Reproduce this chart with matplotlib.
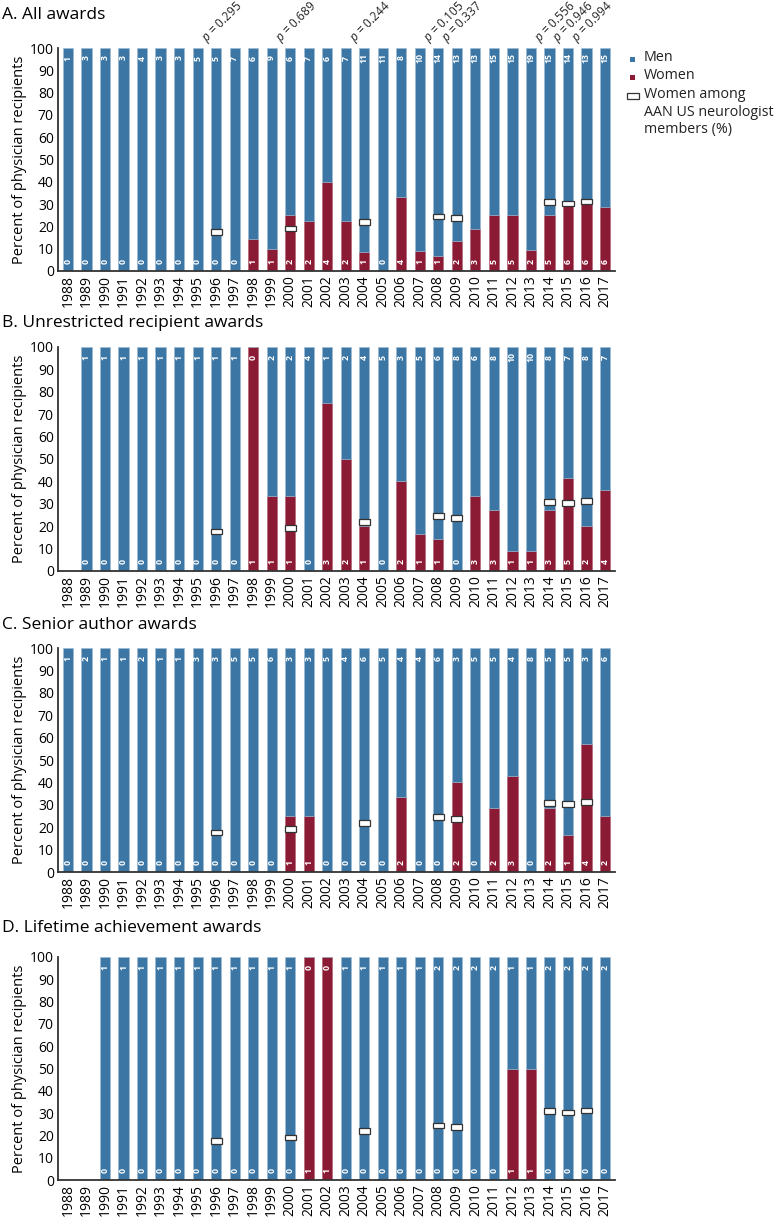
import matplotlib.pyplot as plt
import numpy as np
from matplotlib.patches import Rectangle

plt.rcParams['font.family'] = ['Open Sans', 'DejaVu Sans']
plt.rcParams['mathtext.fontset'] = 'custom'
plt.rcParams['mathtext.it'] = 'Open Sans:italic'
plt.rcParams['mathtext.rm'] = 'Open Sans'

years = list(range(1988, 2018))

# counts per year (None = no award that year)
men_all = [1, 3, 3, 3, 4, 3, 3, 5, 5, 7, 6, 9, 6, 7, 6, 7, 11, 11, 8, 10, 14, 13, 13, 15, 15, 19, 15, 14, 13, 15]
women_all = [0, 0, 0, 0, 0, 0, 0, 0, 0, 0, 1, 1, 2, 2, 4, 2, 1, 0, 4, 1, 1, 2, 3, 5, 5, 2, 5, 6, 6, 6]

men_unres = [None, 1, 1, 1, 1, 1, 1, 1, 1, 1, 0, 2, 2, 4, 1, 2, 4, 5, 3, 5, 6, 8, 6, 8, 10, 10, 8, 7, 8, 7]
women_unres = [None, 0, 0, 0, 0, 0, 0, 0, 0, 0, 1, 1, 1, 0, 3, 2, 1, 0, 2, 1, 1, 0, 3, 3, 1, 1, 3, 5, 2, 4]

men_senior = [1, 2, 1, 1, 2, 1, 1, 3, 3, 5, 5, 6, 3, 3, 5, 4, 6, 5, 4, 4, 6, 3, 5, 5, 4, 8, 5, 5, 3, 6]
women_senior = [0, 0, 0, 0, 0, 0, 0, 0, 0, 0, 0, 0, 1, 1, 0, 0, 0, 0, 2, 0, 0, 2, 0, 2, 3, 0, 2, 1, 4, 2]

men_life = [None, None, 1, 1, 1, 1, 1, 1, 1, 1, 1, 1, 1, 0, 0, 1, 1, 1, 1, 1, 2, 2, 2, 2, 1, 1, 2, 2, 2, 2]
women_life = [None, None, 0, 0, 0, 0, 0, 0, 0, 0, 0, 0, 0, 1, 1, 0, 0, 0, 0, 0, 0, 0, 0, 0, 1, 1, 0, 0, 0, 0]

# women among AAN US neurologist members (%)
aan_years = [1996, 2000, 2004, 2008, 2009, 2014, 2015, 2016]
aan_pct = [17.6, 19.1, 22.0, 24.4, 23.6, 30.8, 30.3, 31.2]
p_values = ['0.295', '0.689', '0.244', '0.105', '0.337', '0.556', '0.946', '0.994']

titles = ['A. All awards', 'B. Unrestricted recipient awards',
          'C. Senior author awards', 'D. Lifetime achievement awards']
panels = [(men_all, women_all), (men_unres, women_unres),
          (men_senior, women_senior), (men_life, women_life)]

blue = '#3b76a4'
red = '#8b1a34'
dark = '#333333'

W, H = 778, 1220
fig = plt.figure(figsize=(W / 100, H / 100), dpi=100)

# pixel positions (y of 0 line, y of 100 line, title centre) for each panel
rows = [(271, 48, 15), (571, 347, 323), (872, 648, 625), (1180, 957, 928)]
x_left, x_right = 58, 615

for i, (men, women) in enumerate(panels):
    y0, y100, yt = rows[i]
    ax = fig.add_axes([x_left / W, 1 - y0 / H, (x_right - x_left) / W, (y0 - y100) / H])

    xs, wp, mp, mc, wc = [], [], [], [], []
    for yr, m, w in zip(years, men, women):
        if m is None:
            continue
        tot = m + w
        xs.append(yr)
        wp.append(100 * w / tot)
        mp.append(100 * m / tot)
        mc.append(m)
        wc.append(w)
    xs = np.array(xs)
    wp = np.array(wp)
    mp = np.array(mp)

    ax.bar(xs, wp, width=0.55, color=red, edgecolor='#b06070', linewidth=0.4)
    ax.bar(xs, mp, bottom=wp, width=0.55, color=blue, edgecolor='#9cbcd6', linewidth=0.4)

    for x, m, w in zip(xs, mc, wc):
        ax.text(x, 95.5, str(m), color='white', fontsize=6.3, fontweight='bold',
                rotation=90, ha='center', va='center')
        ax.text(x, 4.3, str(w), color='white', fontsize=6.3, fontweight='bold',
                rotation=90, ha='center', va='center')

    ax.bar(aan_years, [2.6] * len(aan_years), bottom=np.array(aan_pct) - 1.3,
           width=0.6, color='white', edgecolor=dark, linewidth=0.9)

    ax.set_xlim(1987.46, 2017.54)
    ax.set_ylim(0, 100)
    ax.set_yticks(range(0, 101, 10))
    ax.set_xticks(years)
    ax.set_xticklabels([str(y) for y in years], rotation=90, fontsize=10)
    ax.tick_params(axis='y', labelsize=10, length=0, pad=3)
    ax.tick_params(axis='x', length=0, pad=3)
    for s in ['top', 'right']:
        ax.spines[s].set_visible(False)
    for s in ['left', 'bottom']:
        ax.spines[s].set_color(dark)
        ax.spines[s].set_linewidth(1.3)
    ax.set_ylabel('Percent of physician recipients', fontsize=10.5, labelpad=2)
    fig.text(2 / W, 1 - yt / H, titles[i], fontsize=12.5, ha='left', va='center')

    if i == 0:
        for yr, p in zip(aan_years, p_values):
            ax.text(yr - 0.35, 101, '$p$ = ' + p, rotation=45, rotation_mode='anchor',
                    ha='left', va='bottom', fontsize=8.5, color='#222222')

# legend drawn by hand (marker sits on first line of the multi-line label)
leg = [(59, 'Men', blue, None), (77, 'Women', red, None),
       (96, 'Women among\nAAN US neurologist\nmembers (%)', 'white', dark)]
for yc, label, fc, ec in leg:
    if ec is None:
        fig.patches.append(Rectangle((630 / W, 1 - (yc + 2.5) / H), 5 / W, 5 / H,
                                     transform=fig.transFigure, facecolor=fc, edgecolor='none'))
    else:
        fig.patches.append(Rectangle((627 / W, 1 - (yc + 3) / H), 12 / W, 6 / H,
                                     transform=fig.transFigure, facecolor=fc, edgecolor=ec,
                                     linewidth=0.9))
    fig.text(644 / W, 1 - (yc - 9) / H, label, fontsize=10.3, ha='left', va='top',
             linespacing=1.25, color='#222222')

fig.savefig('out.png', dpi=100)
